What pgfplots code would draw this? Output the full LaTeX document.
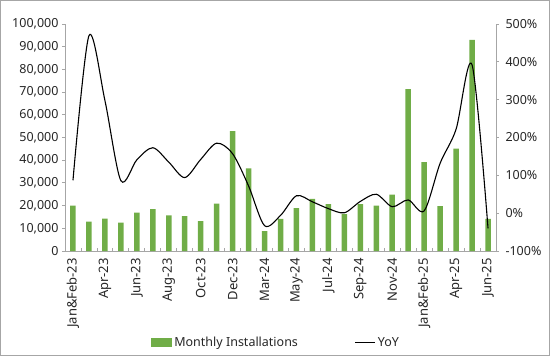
\documentclass[border=0pt]{standalone}
\usepackage{pgfplots}
\pgfplotsset{compat=1.18}
\usepackage{fontspec}
\setmainfont{Noto Sans}
\definecolor{barg}{HTML}{70AD47}
\definecolor{axg}{HTML}{A6A6A6}
\definecolor{txt}{HTML}{262626}
\begin{document}
\begin{tikzpicture}
\draw[axg, line width=1.2bp] (0.6bp,0.6bp) rectangle (549.4bp,355.4bp);
\begin{axis}[
  at={(65bp,105bp)}, anchor=south west,
  scale only axis, width=431bp, height=227bp,
  xmin=-0.5, xmax=26.5, ymin=0, ymax=100000,
  axis y line*=left, axis x line*=bottom,
  axis line style={axg, line width=0.8bp},
  ybar, bar width=5.5bp,
  tick align=inside, major tick length=3bp,
  tick style={axg, line width=0.8bp},
  ytick={0,10000,...,100000},
  ytick style={xshift=-3bp},
  scaled y ticks=false,
  ticklabel style={font=\fontsize{12.5bp}{14bp}\selectfont, text=txt},
  yticklabel style={/pgf/number format/fixed, /pgf/number format/1000 sep={,}, /pgf/number format/assume math mode=true, xshift=-3bp},
  xtick={-0.5,0.5,...,26.5}, xticklabels={},
  extra x ticks={0,2,...,26},
  extra x tick labels={Jan\&Feb-23,Apr-23,Jun-23,Aug-23,Oct-23,Dec-23,Mar-24,May-24,Jul-24,Sep-24,Nov-24,Jan\&Feb-25,Apr-25,Jun-25},
  extra x tick style={major tick length=0pt, xticklabel style={rotate=90, anchor=east, inner xsep=7bp, font=\fontsize{13bp}{15bp}\selectfont}},
  legend style={at={(0.49,-0.405)}, anchor=center, draw=none, fill=none,
    font=\fontsize{12.5bp}{14bp}\selectfont, text=txt,
    /tikz/every even column/.append style={column sep=55bp}},
  legend columns=2,
  clip=false,
]
\addplot[fill=barg, draw=none,
  legend image code/.code={\fill[barg] (0bp,-4.5bp) rectangle (21bp,4.5bp);}]
  coordinates {
(0,20000) (1,12900) (2,14300) (3,12500) (4,16900) (5,18400) (6,15700) (7,15400)
(8,13200) (9,20900) (10,52800) (11,36400) (12,8800) (13,14200) (14,18900)
(15,23000) (16,20700) (17,16200) (18,20600) (19,20000) (20,24800) (21,71300)
(22,39100) (23,19800) (24,45100) (25,93000) (26,14100)
};
\addlegendentry{Monthly Installations}
\addlegendimage{legend image code/.code={\draw[black, line width=1bp] (0bp,0bp) -- (20bp,0bp);}}
\addlegendentry{YoY}
\end{axis}
\begin{axis}[
  at={(65bp,105bp)}, anchor=south west,
  scale only axis, width=431bp, height=227bp,
  xmin=-0.5, xmax=26.5, ymin=-100, ymax=500,
  axis y line*=right, axis x line=none,
  axis line style={axg, line width=0.8bp},
  tick align=outside, major tick length=3bp,
  tick style={axg, line width=0.8bp},
  ytick={-100,0,...,500},
  yticklabel={\pgfmathprintnumber{\tick}\%},
  ticklabel style={font=\fontsize{12.5bp}{14bp}\selectfont, text=txt},
  yticklabel style={/pgf/number format/assume math mode=true, xshift=3bp},
]
\addplot[black, line width=1.1bp, smooth, tension=0.5, mark=none] coordinates {
(0,87) (1,469) (2,298) (3,86) (4,141) (5,173) (6,135) (7,94) (8,142) (9,185)
(10,157) (11,72) (12,-33) (13,-6) (14,46) (15,30) (16,12) (17,1) (18,31)
(19,50) (20,17) (21,35) (22,6) (23,132) (24,222) (25,392) (26,-40)
};
\end{axis}
\end{tikzpicture}
\end{document}
